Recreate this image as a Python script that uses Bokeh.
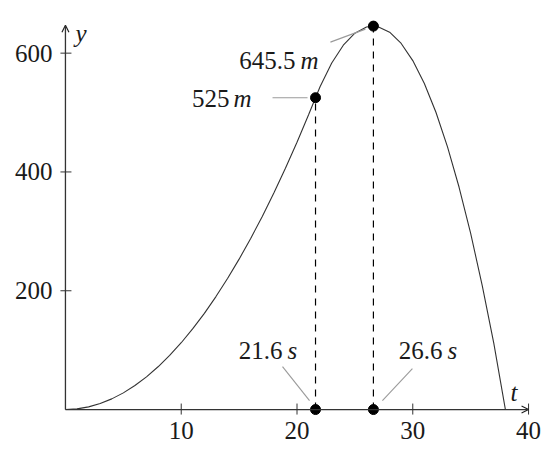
from bokeh.plotting import figure
from bokeh.models import Range1d, FixedTicker, Arrow, OpenHead
from bokeh.core.properties import value
from bokeh.embed import file_html
from bokeh.resources import INLINE

# ---- data ----
t_vals = [0, 1, 2, 3, 4, 5, 6, 7, 8, 9, 10, 11, 12, 13, 14, 15, 16, 17, 18, 19, 20, 21,
          21.6, 22, 23, 24, 25, 26, 26.6, 27, 28, 29, 30, 31, 32, 33, 34, 35, 36, 37, 38.0]
y_vals = [0, 1.1, 4.5, 10.1, 18.0, 28.1, 40.5, 55.1, 72.0, 91.2, 112.5, 136.2, 162.0, 190.2,
          220.5, 253.2, 288.1, 325.2, 364.6, 406.2, 450.1, 496.3,
          525.0, 543.7, 583.4, 613.4, 633.6, 644.0, 645.5, 644.6, 635.3, 616.3, 587.5, 548.9,
          500.5, 442.2, 374.2, 296.4, 208.8, 111.4, 0]
burn_t, burn_y = 21.6, 525.0       # end of engine phase
peak_t, peak_y = 26.6, 645.5       # apex
x_ticks = [10, 20, 30, 40]
y_ticks = [200, 400, 600]
x_axis_end = 40
y_axis_end = 647

# ---- layout ----
ML, MR, MT, MB = 58, 10, 17, 34
FW, FH = 477, 398
x0, x1 = -0.6, 40.6
y0, y1 = -10, 660
DX = (x1 - x0) / FW
DY = (y1 - y0) / FH
TXT_SHIFT = -8   # vertical pixel correction for text baselines

FONT_NAME = "Liberation Serif"
FONT = value(FONT_NAME)
FS = "25px"
INK = "#1a1a1a"

p = figure(frame_width=FW, frame_height=FH, x_range=Range1d(x0, x1), y_range=Range1d(y0, y1),
           output_backend="svg", toolbar_location=None,
           min_border_left=ML, min_border_right=MR, min_border_top=MT, min_border_bottom=MB)
p.outline_line_color = None
p.grid.visible = False
p.background_fill_color = "white"
p.border_fill_color = "white"

for ax, ticks in ((p.xaxis[0], x_ticks), (p.yaxis[0], y_ticks)):
    ax.ticker = FixedTicker(ticks=ticks)
    ax.axis_line_color = None
    ax.major_tick_line_color = None
    ax.minor_tick_line_color = None
    ax.major_tick_in = 0
    ax.major_tick_out = 0
    ax.major_label_text_font = FONT_NAME
    ax.major_label_text_font_size = FS
    ax.major_label_text_color = INK
p.xaxis.major_label_standoff = 6
p.yaxis.major_label_standoff = 6


def off(x, y, dx, dy):
    """anchor point + pixel offset (dy positive = downwards)"""
    return x + dx * DX, y - dy * DY


# axes through the origin, with arrows
p.add_layout(Arrow(x_start=0, y_start=0, x_end=x_axis_end, y_end=0,
                   line_color="#333333", line_width=1.3,
                   end=OpenHead(size=7, line_color="#222222", line_width=1.2)))
p.add_layout(Arrow(x_start=0, y_start=0, x_end=0, y_end=y_axis_end,
                   line_color="#333333", line_width=1.3,
                   end=OpenHead(size=7, line_color="#222222", line_width=1.2)))

# tick marks crossing the axis lines
p.segment(x0=x_ticks, y0=[off(0, 0, 0, 5)[1]] * len(x_ticks),
          x1=x_ticks, y1=[off(0, 0, 0, -6)[1]] * len(x_ticks),
          line_color="#333333", line_width=1)
p.segment(x0=[off(0, 0, -5, 0)[0]] * len(y_ticks), y0=y_ticks,
          x1=[off(0, 0, 6, 0)[0]] * len(y_ticks), y1=y_ticks,
          line_color="#333333", line_width=1)

# curve
p.line(t_vals, y_vals, line_color="#333333", line_width=1.1)

# dashed verticals
p.segment(x0=[burn_t, peak_t], y0=[0, 0], x1=[burn_t, peak_t], y1=[burn_y, peak_y],
          line_color="black", line_width=1.2, line_dash="7 6")

# pins (pixel offsets from the anchor point)
pins = [
    ((peak_t, peak_y), (-43, 16), (-8, 3)),
    ((burn_t, burn_y), (-43, 0), (-8, 0)),
    ((burn_t, 0), (-33, -43), (-6, -9)),
    ((peak_t, 0), (39, -41), (9, -9)),
]
sx0, sy0, sx1, sy1 = [], [], [], []
for (ax_, ay_), a, b in pins:
    u = off(ax_, ay_, *a)
    v = off(ax_, ay_, *b)
    sx0.append(u[0]); sy0.append(u[1]); sx1.append(v[0]); sy1.append(v[1])
p.segment(x0=sx0, y0=sy0, x1=sx1, y1=sy1, line_color="#9a9a9a", line_width=1.1)

# dots
p.scatter([burn_t, peak_t, burn_t, peak_t], [burn_y, peak_y, 0, 0],
          size=10, color="black")

# annotation texts: numbers (upright, right aligned) and units (italic)
labels = [
    ((peak_t, peak_y), f"{peak_y:g}", "m", (-78, 42), (-73, 42)),
    ((burn_t, burn_y), f"{burn_y:g}", "m", (-86, 9), (-82, 9)),
    ((burn_t, 0), f"{burn_t:g}", "s", (-33, -51), (-28, -51)),
    ((peak_t, 0), f"{peak_t:g}", "s", (69, -51), (74, -51)),
]
nx, ny, nt, ux, uy, ut = [], [], [], [], [], []
for (ax_, ay_), num, unit, o1, o2 in labels:
    a = off(ax_, ay_, o1[0], o1[1] + TXT_SHIFT)
    b = off(ax_, ay_, o2[0], o2[1] + TXT_SHIFT)
    nx.append(a[0]); ny.append(a[1]); nt.append(num)
    ux.append(b[0]); uy.append(b[1]); ut.append(unit)
p.text(x=nx, y=ny, text=nt, text_font=FONT, text_font_size=FS, text_color=INK,
       text_align="right", text_baseline="alphabetic")
p.text(x=ux, y=uy, text=ut, text_font=FONT, text_font_size=FS, text_color=INK,
       text_font_style="italic", text_align="left", text_baseline="alphabetic")

# axis names
ya = off(0, y_axis_end, 10, 16 + TXT_SHIFT)
ta = off(x_axis_end, 0, -18, -9 + TXT_SHIFT)
p.text(x=[ya[0], ta[0]], y=[ya[1], ta[1]], text=["y", "t"], text_font=FONT,
       text_font_size=FS, text_color=INK, text_font_style="italic",
       text_align="left", text_baseline="alphabetic")

open("out.html", "w").write(file_html(p, INLINE))
